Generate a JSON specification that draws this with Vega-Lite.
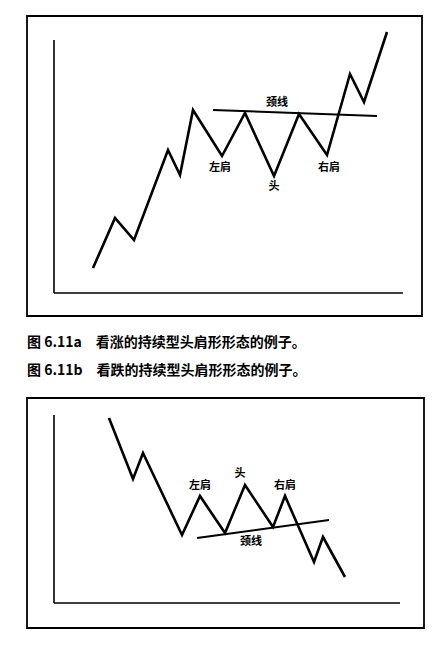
{
  "$schema": "https://vega.github.io/schema/vega-lite/v6.json",
  "background": "white",
  "padding": {"left": 26, "top": 15, "right": 0, "bottom": 0},
  "spacing": 12,
  "config": {
    "view": {"stroke": "black", "strokeWidth": 1.8},
    "title": {"font": "Noto Sans CJK SC", "fontSize": 14, "fontWeight": "bold", "color": "black", "anchor": "start"},
    "text": {"font": "Noto Sans CJK SC", "fontSize": 11, "fontWeight": "bold", "color": "black"}
  },
  "vconcat": [
    {
      "width": 395,
      "height": 300,
      "title": {"text": "图 6.11a\u2003看涨的持续型头肩形形态的例子。", "orient": "bottom", "offset": 20},
      "encoding": {
        "x": {"field": "x", "type": "quantitative", "scale": {"domain": [-27, 368], "zero": false, "nice": false}, "axis": null},
        "y": {"field": "y", "type": "quantitative", "scale": {"domain": [-23, 277], "zero": false, "nice": false}, "axis": null}
      },
      "layer": [
        {
          "data": {"values": [{"x": 0, "y": 0, "x2": 0, "y2": 253}, {"x": 0, "y": 0, "x2": 349, "y2": 0}]},
          "mark": {"type": "rule", "color": "black", "strokeWidth": 1.6},
          "encoding": {"x2": {"field": "x2"}, "y2": {"field": "y2"}}
        },
        {
          "data": {"values": [
            {"x": 39, "y": 25}, {"x": 61, "y": 75}, {"x": 80, "y": 53}, {"x": 114, "y": 143},
            {"x": 126, "y": 118}, {"x": 139, "y": 183}, {"x": 168, "y": 137}, {"x": 191, "y": 180},
            {"x": 220, "y": 117}, {"x": 245, "y": 179}, {"x": 273, "y": 138}, {"x": 296, "y": 219},
            {"x": 310, "y": 191}, {"x": 333, "y": 261}
          ]},
          "mark": {"type": "line", "color": "black", "strokeWidth": 2.6, "strokeJoin": "miter"}
        },
        {
          "data": {"values": [{"x": 159, "y": 183}, {"x": 323, "y": 177}]},
          "mark": {"type": "line", "color": "black", "strokeWidth": 2}
        },
        {
          "data": {"values": [
            {"x": 223, "y": 190, "label": "颈线"},
            {"x": 166, "y": 125, "label": "左肩"},
            {"x": 220, "y": 106, "label": "头"},
            {"x": 275, "y": 125, "label": "右肩"}
          ]},
          "mark": {"type": "text", "baseline": "middle", "align": "center"},
          "encoding": {"text": {"field": "label"}}
        }
      ]
    },
    {
      "width": 397,
      "height": 230,
      "title": {"text": "图 6.11b\u2003看跌的持续型头肩形形态的例子。", "orient": "top", "offset": 20},
      "encoding": {
        "x": {"field": "x", "type": "quantitative", "scale": {"domain": [-27, 370], "zero": false, "nice": false}, "axis": null},
        "y": {"field": "y", "type": "quantitative", "scale": {"domain": [-25, 205], "zero": false, "nice": false}, "axis": null}
      },
      "layer": [
        {
          "data": {"values": [{"x": 0, "y": 0, "x2": 0, "y2": 188}, {"x": 0, "y": 0, "x2": 346, "y2": 0}]},
          "mark": {"type": "rule", "color": "black", "strokeWidth": 1.6},
          "encoding": {"x2": {"field": "x2"}, "y2": {"field": "y2"}}
        },
        {
          "data": {"values": [
            {"x": 55, "y": 185}, {"x": 79, "y": 124}, {"x": 89, "y": 150}, {"x": 128, "y": 68},
            {"x": 146, "y": 107}, {"x": 171, "y": 70}, {"x": 191, "y": 118}, {"x": 219, "y": 76},
            {"x": 231, "y": 107}, {"x": 260, "y": 41}, {"x": 269, "y": 66}, {"x": 291, "y": 26}
          ]},
          "mark": {"type": "line", "color": "black", "strokeWidth": 2.6, "strokeJoin": "miter"}
        },
        {
          "data": {"values": [{"x": 143, "y": 65}, {"x": 275, "y": 83}]},
          "mark": {"type": "line", "color": "black", "strokeWidth": 2}
        },
        {
          "data": {"values": [
            {"x": 146, "y": 117, "label": "左肩"},
            {"x": 186, "y": 129, "label": "头"},
            {"x": 231, "y": 117, "label": "右肩"},
            {"x": 197, "y": 61, "label": "颈线"}
          ]},
          "mark": {"type": "text", "baseline": "middle", "align": "center"},
          "encoding": {"text": {"field": "label"}}
        }
      ]
    }
  ]
}
